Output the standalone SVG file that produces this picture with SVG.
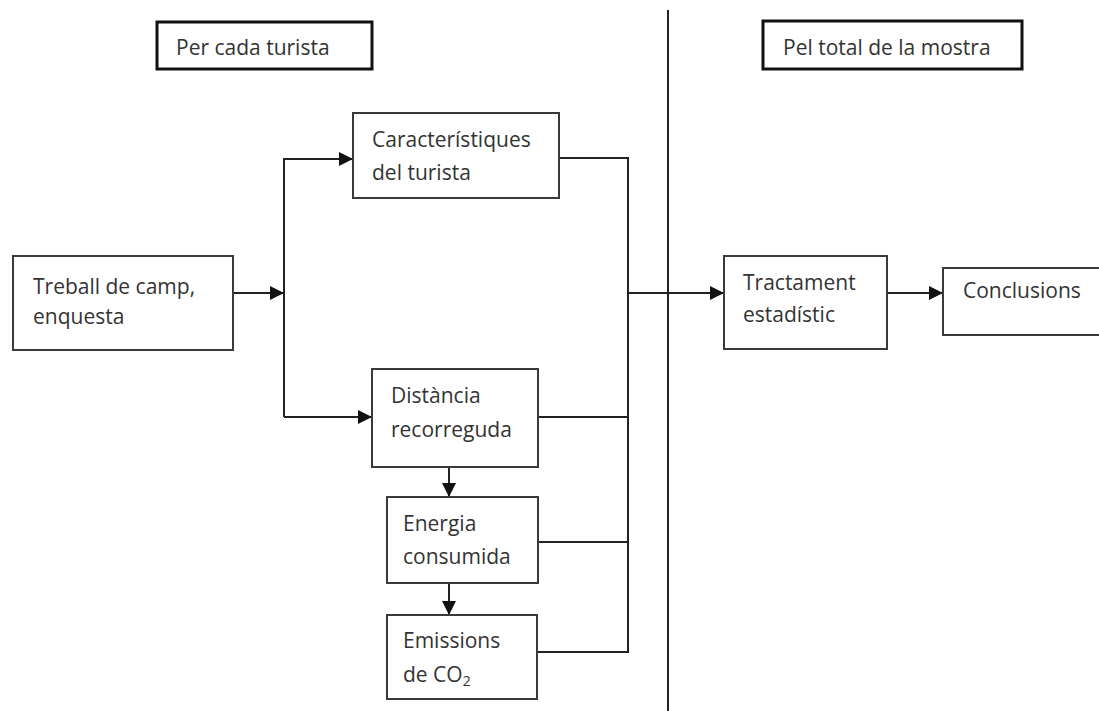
<svg xmlns="http://www.w3.org/2000/svg" width="1099" height="711" viewBox="0 0 1099 711">
<defs>
<style>
.box{fill:#fff;stroke:#3a3a3a;stroke-width:2}
.hdr{fill:#fff;stroke:#111;stroke-width:3}
.t{font-family:"Open Sans","Liberation Sans",sans-serif;font-size:21px;fill:#333}
.c{fill:none;stroke:#222;stroke-width:2}
</style>
<marker id="ah" viewBox="0 0 10 10" refX="10" refY="5" markerWidth="14" markerHeight="14" markerUnits="userSpaceOnUse" orient="auto">
<path d="M0,0 L10,5 L0,10 Z" fill="#111"/>
</marker>
</defs>
<rect width="1099" height="711" fill="#fff"/>
<g id="connectors">
<line class="c" x1="668" y1="10" x2="668" y2="711"/>
<line class="c" x1="233" y1="293" x2="284" y2="293" marker-end="url(#ah)"/>
<polyline class="c" points="284,417 284,159 353,159" marker-end="url(#ah)"/>
<line class="c" x1="284" y1="417" x2="372" y2="417" marker-end="url(#ah)"/>
<polyline class="c" points="559,158 628,158 628,652 537,652"/>
<line class="c" x1="538" y1="417" x2="628" y2="417"/>
<line class="c" x1="538" y1="542" x2="628" y2="542"/>
<line class="c" x1="628" y1="293" x2="724" y2="293" marker-end="url(#ah)"/>
<line class="c" x1="887" y1="293" x2="943" y2="293" marker-end="url(#ah)"/>
<line class="c" x1="449" y1="467" x2="449" y2="497" marker-end="url(#ah)"/>
<line class="c" x1="449" y1="583" x2="449" y2="615" marker-end="url(#ah)"/>
</g>
<g id="hdr-left">
<rect class="hdr" x="157" y="22" width="215" height="47"/>
<text class="t" x="176" y="55">Per cada turista</text>
</g>
<g id="hdr-right">
<rect class="hdr" x="763" y="21" width="259" height="48"/>
<text class="t" x="783" y="55">Pel total de la mostra</text>
</g>
<g id="treball">
<rect class="box" x="13" y="256" width="220" height="94"/>
<text class="t" x="33" y="294">Treball de camp,</text>
<text class="t" x="33" y="324">enquesta</text>
</g>
<g id="caracteristiques">
<rect class="box" x="353" y="113" width="206" height="85"/>
<text class="t" x="372" y="147">Característiques</text>
<text class="t" x="372" y="180">del turista</text>
</g>
<g id="distancia">
<rect class="box" x="372" y="369" width="166" height="98"/>
<text class="t" x="391" y="403">Distància</text>
<text class="t" x="391" y="437">recorreguda</text>
</g>
<g id="energia">
<rect class="box" x="387" y="497" width="151" height="86"/>
<text class="t" x="403" y="531">Energia</text>
<text class="t" x="403" y="564">consumida</text>
</g>
<g id="emissions">
<rect class="box" x="387" y="615" width="150" height="84"/>
<text class="t" x="403" y="648">Emissions</text>
<text class="t" x="403" y="682">de CO<tspan font-size="14" dy="4">2</tspan></text>
</g>
<g id="tractament">
<rect class="box" x="724" y="256" width="163" height="93"/>
<text class="t" x="743" y="290">Tractament</text>
<text class="t" x="743" y="322">estadístic</text>
</g>
<g id="conclusions">
<rect class="box" x="943" y="268" width="160" height="67"/>
<text class="t" x="963" y="298">Conclusions</text>
</g>
</svg>
